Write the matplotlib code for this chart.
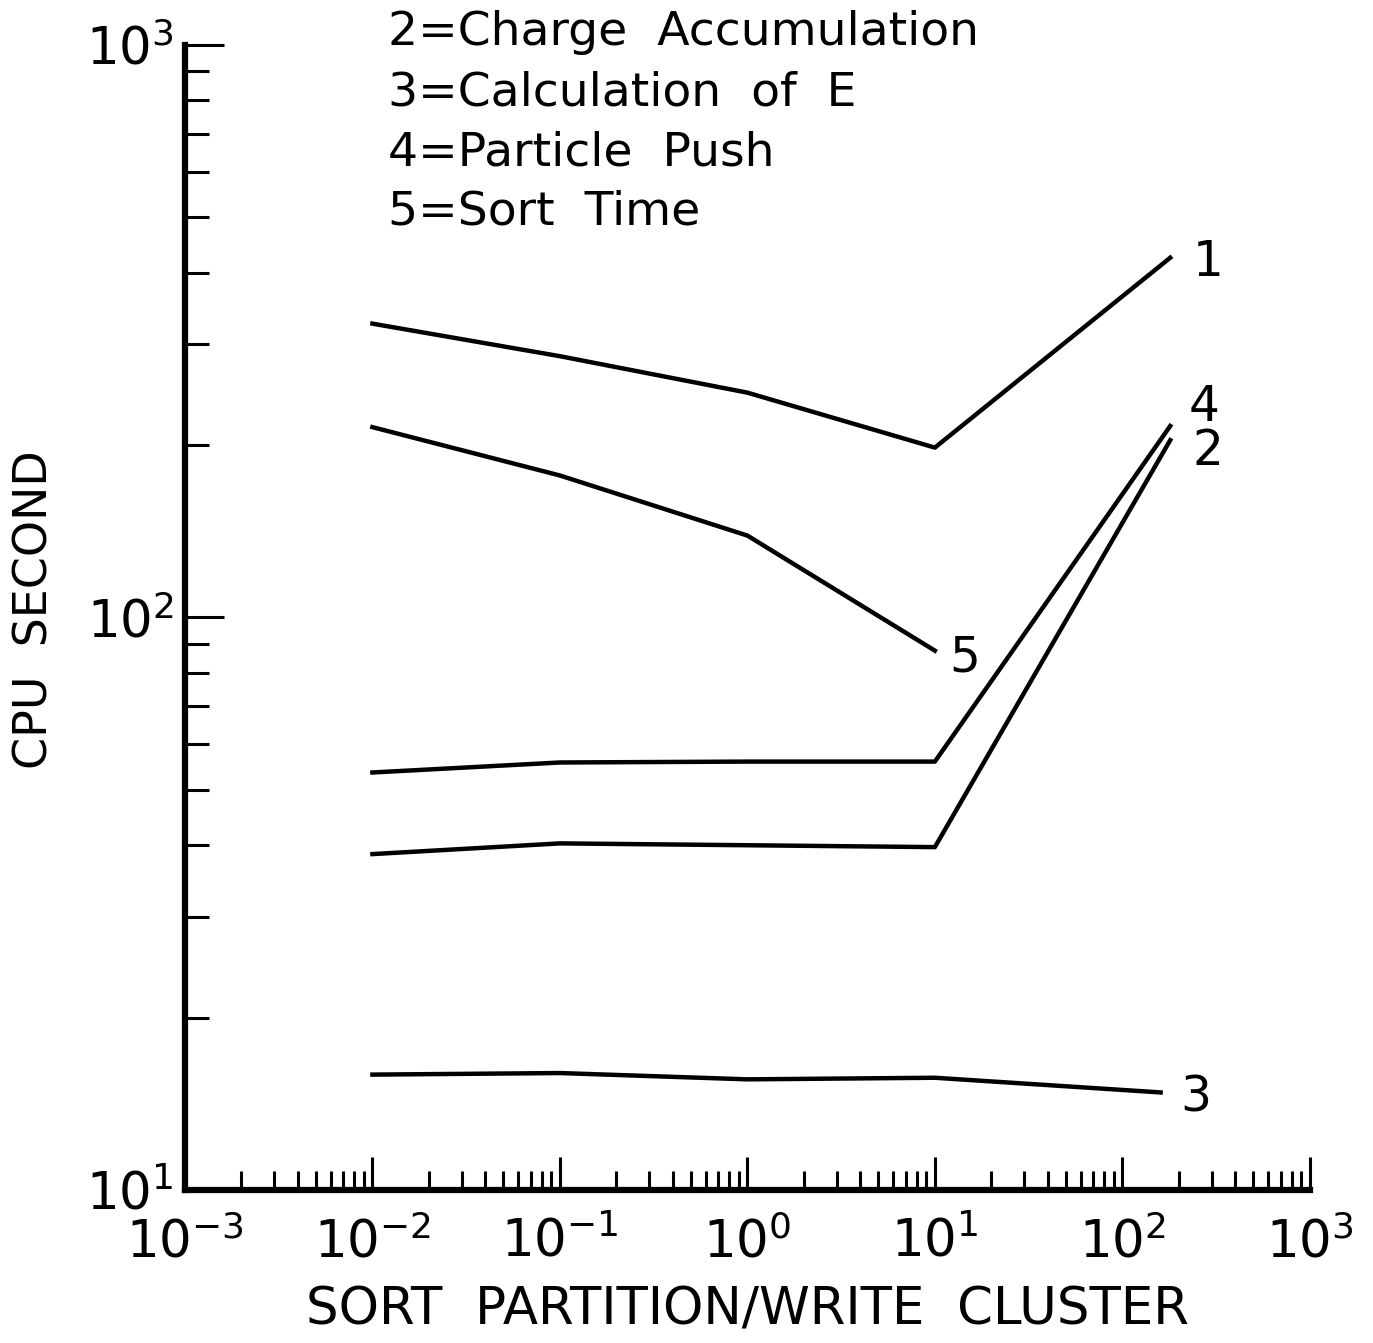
import matplotlib
matplotlib.use("Agg")
import matplotlib.pyplot as plt
from matplotlib.ticker import LogLocator, FixedLocator, NullFormatter

plt.rcParams['font.family'] = ['DejaVu Sans']
plt.rcParams['mathtext.fontset'] = 'dejavusans'

# ---- data ----
x_main = [0.01, 0.1, 1.0, 10.0, 180.0]
x_sort = [0.01, 0.1, 1.0, 10.0]
x_e = [0.01, 0.1, 1.0, 10.0, 160.0]

total = [326, 286, 247, 198, 425]          # curve 1
charge = [38.6, 40.3, 40.0, 39.7, 204]     # curve 2
calc_e = [15.9, 16.0, 15.6, 15.7, 14.8]    # curve 3
push = [53.6, 55.8, 56.0, 56.0, 216]       # curve 4
sort_t = [215, 177, 139, 87.5]             # curve 5

legend_lines = ["2=Charge  Accumulation", "3=Calculation  of  E",
                "4=Particle  Push", "5=Sort  Time"]
x_ticklabels = [r"$10^{-3}$", r"$10^{-2}$", r"$10^{-1}$", r"$10^{0}$",
                r"$10^{1}$", r"$10^{2}$", r"$10^{3}$"]
x_major = [1e-3, 1e-2, 1e-1, 1e0, 1e1, 1e2, 1e3]
y_ticklabels = [r"$10^{1}$", r"$10^{2}$", r"$10^{3}$"]
y_major = [10, 100, 1000]

fig = plt.figure(figsize=(13.73, 13.43), dpi=100)
ax = fig.add_axes([0.1347, 0.114, 0.954 - 0.1347, 0.9665 - 0.114])
ax.set_xscale('log')
ax.set_yscale('log')
ax.set_xlim(1e-3, 1e3)
ax.set_ylim(10, 1000)

lw = 3.2
ax.plot(x_main, total, color='black', lw=lw)
ax.plot(x_main, charge, color='black', lw=lw)
ax.plot(x_e, calc_e, color='black', lw=lw)
ax.plot(x_main, push, color='black', lw=lw)
ax.plot(x_sort, sort_t, color='black', lw=lw)

fs_lab = 35
ax.annotate("1", xy=(x_main[-1], total[-1]), xytext=(16, -3),
            textcoords='offset points', fontsize=fs_lab, ha='left', va='center')
ax.annotate("4", xy=(x_main[-1], push[-1]), xytext=(13, 14),
            textcoords='offset points', fontsize=fs_lab, ha='left', va='center')
ax.annotate("2", xy=(x_main[-1], charge[-1]), xytext=(16, -8),
            textcoords='offset points', fontsize=fs_lab, ha='left', va='center')
ax.annotate("5", xy=(x_sort[-1], sort_t[-1]), xytext=(10, -5),
            textcoords='offset points', fontsize=fs_lab, ha='left', va='center')
ax.annotate("3", xy=(x_e[-1], calc_e[-1]), xytext=(14, -4),
            textcoords='offset points', fontsize=fs_lab, ha='left', va='center')

# spines
for s in ['top', 'right']:
    ax.spines[s].set_visible(False)
for s in ['left', 'bottom']:
    ax.spines[s].set_linewidth(4.5)

# ticks
ax.xaxis.set_major_locator(FixedLocator(x_major))
ax.xaxis.set_minor_locator(LogLocator(base=10, subs=range(2, 10), numticks=20))
ax.yaxis.set_major_locator(FixedLocator(y_major))
ax.yaxis.set_minor_locator(LogLocator(base=10, subs=range(2, 10), numticks=20))
ax.set_xticklabels(x_ticklabels)
ax.set_yticklabels(y_ticklabels)
ax.xaxis.set_minor_formatter(NullFormatter())
ax.yaxis.set_minor_formatter(NullFormatter())
ax.tick_params(axis='x', which='major', direction='in', length=24, width=2.2,
               labelsize=37, pad=20)
ax.tick_params(axis='x', which='minor', direction='in', length=14, width=2.2)
ax.tick_params(axis='y', which='major', direction='in', length=28, width=2.2,
               labelsize=37, pad=8)
ax.tick_params(axis='y', which='minor', direction='in', length=17, width=2.2)

ax.set_xlabel("SORT  PARTITION/WRITE  CLUSTER", fontsize=37, labelpad=12)
ax.set_ylabel("CPU  SECOND", fontsize=33, va='center')
ax.yaxis.set_label_coords(35 / 1373, 1 - 610 / 1343, transform=fig.transFigure)

# legend text block
y0 = 1 - 10 / 1343
dy = 60 / 1343
for i, t in enumerate(legend_lines):
    fig.text(388 / 1373, y0 - i * dy, t, fontsize=34, ha='left', va='top')

fig.savefig("out.png", dpi=100)
